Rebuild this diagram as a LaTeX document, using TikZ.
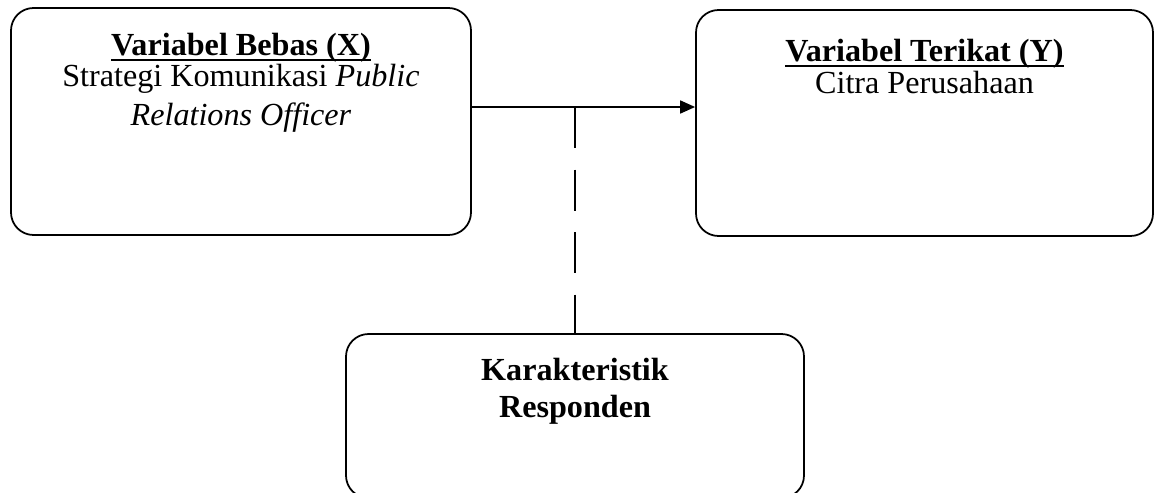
\documentclass[tikz,border=0pt]{standalone}
\usepackage{fontspec}
\setmainfont{Liberation Serif}
\usetikzlibrary{arrows.meta}
\newcommand{\thickul}[1]{\setbox0\hbox{#1}\rlap{\rule[-3.2pt]{\wd0}{1.1pt}}\box0}

\begin{document}
\begin{tikzpicture}[
	varbox/.style={draw, line width=1pt, rounded corners=0.45cm, inner sep=0pt,
		font=\fontsize{18.3}{22.3}\selectfont},
	link/.style={line width=1pt}]
\useasboundingbox (0,0) rectangle (23.24,-9.84);
\node [varbox] (bebas) at (4.82,-2.43) {\parbox[t][4.54cm][t]{9.2cm}{\centering
	\rule{0pt}{0.94cm}\thickul{\textbf{Variabel Bebas (X)}}\\[-4.5pt]
	Strategi Komunikasi \textit{Public}\\
	\textit{Relations Officer}}};
\node [varbox] (terikat) at (18.49,-2.46) {\parbox[t][4.52cm][t]{9.14cm}{\centering
	\rule{0pt}{1.02cm}\thickul{\textbf{Variabel Terikat (Y)}}\\[-4pt]
	Citra Perusahaan}};
\node [varbox] (karakter) at (11.5,-8.32) {\parbox[t][3.28cm][t]{9.16cm}{\centering
	\rule{0pt}{0.92cm}\textbf{Karakteristik}\\[-1pt]
	\textbf{Responden}}};
% junction on the arrow
\coordinate (jn) at (karakter.north |- 0,-2.14);
\draw [link, -{Triangle[length=0.3cm, width=0.26cm]}] (bebas.east |- jn) -- (terikat.west |- jn);
\draw [link, dash pattern=on 0.82cm off 0.43cm] (jn) -- (karakter.north);
\end{tikzpicture}
\end{document}
